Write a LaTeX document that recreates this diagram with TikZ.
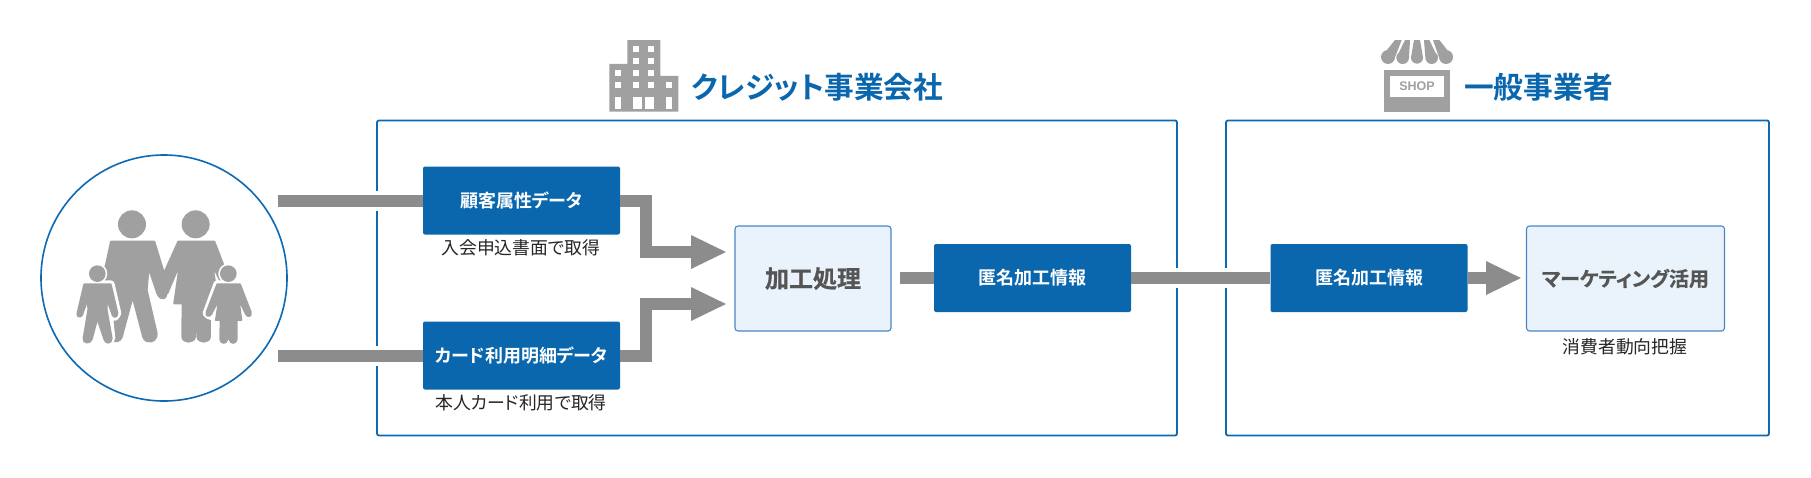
\documentclass[tikz,border=0pt]{standalone}
\usepackage{fontspec}
\usetikzlibrary{arrows.meta}
\setmainfont{Noto Sans CJK JP}
\newfontfamily\jpreg[RawFeature={+palt}]{Noto Sans CJK JP}
\newfontfamily\jpbold[RawFeature={+palt}]{Noto Sans CJK JP Bold}
\newfontfamily\jpheavy[RawFeature={+palt},FakeBold=0.7]{Noto Sans CJK JP Bold}
\newfontfamily\latinb{Liberation Sans Bold}
\definecolor{blueA}{HTML}{0A67AE}
\definecolor{frameA}{HTML}{0C69B4}
\definecolor{lightA}{HTML}{EAF3FB}
\definecolor{edgeA}{HTML}{4A86C5}
\definecolor{iconA}{HTML}{A0A0A1}
\definecolor{barA}{HTML}{8C8C8C}
\definecolor{textA}{HTML}{555555}
\tikzset{
  frameBox/.style={draw=frameA,line width=1.8pt,rounded corners=2pt,fill=white,inner sep=0pt},
  dataBox/.style={fill=blueA,rounded corners=2pt,inner sep=0pt,minimum width=197pt,minimum height=68pt,text=white,font=\jpbold\fontsize{18}{21}\selectfont},
  procBox/.style={draw=edgeA,line width=1.1pt,fill=lightA,rounded corners=3pt,inner sep=0pt,text=textA},
  subLabel/.style={inner sep=0pt,text=black!85,font=\jpreg\fontsize{17.8}{21}\selectfont},
  headLabel/.style={anchor=west,inner sep=0pt,text=blueA,font=\jpbold\fontsize{29.7}{34}\selectfont},
  bar/.style={draw=barA,line width=12pt},
  gap/.style={draw=white,line width=20pt},
  barArrow/.style={bar,-{Triangle[length=36pt,width=31pt]}},
  person/.style={fill=iconA,draw=iconA,line width=2pt,line join=round},
  halo/.style={fill=white,draw=white,line width=8pt,line join=round}
}
\begin{document}
\begin{tikzpicture}[x=1pt,y=-1pt]
\useasboundingbox (0,0) rectangle (1811,477);
\fill[white] (0,0) rectangle (1811,477);

% frames
\node[frameBox,minimum width=800pt,minimum height=315pt] (frameL) at (777,278) {};
\node[frameBox,minimum width=543pt,minimum height=315pt] (frameR) at (1497.5,278) {};

% circle
\node[circle,draw=frameA,line width=1.6pt,fill=white,minimum size=246pt,inner sep=0pt] (family) at (164,278) {};

% family icon
\begin{scope}[shift={(0,130)},x=0.3333pt,y=-0.3333pt]
 \fill[iconA] (396,283) circle[radius=42];
 \fill[iconA] (587,283) circle[radius=42];
 % father
 \path[person] (333,335) -- (463,335) -- (492,430) -- (505,470) -- (497,500) .. controls (490,510) and (478,505) .. (472,490) -- (446,412) -- (440,480) -- (470,610) .. controls (472,635) and (440,645) .. (430,622) -- (398,500) -- (365,622) .. controls (360,635) and (345,637) .. (338,630) -- (335,560) -- (330,470) -- (305,440) -- (318,405) -- cycle;
 % mother
 \path[person] (535,335) -- (643,335) -- (672,410) -- (660,450) -- (637,405) -- (655,520) -- (630,520) -- (630,620) .. controls (628,640) and (595,640) .. (592,620) -- (590,520) -- (585,520) -- (585,620) .. controls (583,640) and (548,640) .. (547,620) -- (548,520) -- (523,520) -- (540,400) -- (502,490) -- (490,470) -- (492,430) -- cycle;
 % boy
 \fill[white] (292,431) circle[radius=30];
 \path[halo] (253,463) -- (332,463) -- (352,550) -- (345,560) -- (322,510) -- (334,625) -- (322,637) -- (292,565) -- (275,628) -- (262,637) -- (251,628) -- (264,510) -- (243,555) -- (233,555) -- cycle;
 \path[person] (253,463) -- (332,463) -- (352,548) .. controls (352,562) and (342,564) .. (338,555) -- (320,505) -- (320,540) -- (335,625) .. controls (335,640) and (318,642) .. (314,630) -- (292,565) -- (275,628) .. controls (270,642) and (248,640) .. (251,625) -- (265,540) -- (264,505) -- (246,555) .. controls (240,564) and (230,560) .. (233,548) -- cycle;
 \fill[iconA] (292,431) circle[radius=25];
 % girl
 \fill[white] (685,431) circle[radius=30];
 \path[halo] (652,463) -- (720,463) -- (753,548) -- (743,558) -- (715,505) -- (724,570) -- (710,570) -- (710,630) -- (662,630) -- (662,570) -- (648,570) -- (658,505) -- (630,558) -- (620,550) -- cycle;
 \path[person] (652,463) -- (720,463) -- (752,546) .. controls (756,560) and (743,562) .. (738,552) -- (715,505) -- (724,570) -- (710,570) -- (710,628) .. controls (708,642) and (690,642) .. (689,628) -- (687,570) -- (683,570) -- (682,628) .. controls (680,642) and (662,642) .. (661,628) -- (662,570) -- (648,570) -- (658,505) -- (634,552) .. controls (628,562) and (616,558) .. (620,546) -- cycle;
 \fill[iconA] (685,431) circle[radius=25];
\end{scope}

% building
\begin{scope}[shift={(590,20)},x=0.3333pt,y=-0.3333pt]
 \fill[iconA] (112,60) -- (211,60) -- (211,168) -- (265,168) -- (265,275) -- (58,275) -- (58,132) -- (112,132) -- cycle;
 \foreach \xa/\ya in {130/78,174/78,130/113,174/113,76/150,130/150,174/150,76/186,130/186,174/186,228/186}
   \fill[white] (\xa,\ya) rectangle ++(18,18);
 \foreach \xa/\xb in {76/94,130/157,165/192,228/246}
   \fill[white] (\xa,232) rectangle (\xb,268);
\end{scope}

% shop
\begin{scope}[shift={(1360,20)},x=0.3333pt,y=-0.3333pt]
 \fill[iconA] (72,150) rectangle (270,275);
 \fill[white] (90,167) rectangle (252,232);
 \fill[iconA] (105,60) -- (125,60) -- (105,112) -- (63,112) -- cycle (84,111) circle[radius=21];
 \fill[iconA] (135,60) -- (150,60) -- (147,112) -- (110,112) -- cycle (128,113) circle[radius=19];
 \fill[iconA] (162,60) -- (180,60) -- (189,112) -- (153,112) -- cycle (171,113) circle[radius=18];
 \fill[iconA] (192,60) -- (208,60) -- (233,112) -- (196,112) -- cycle (215,113) circle[radius=19];
 \fill[iconA] (219,60) -- (238,60) -- (279,112) -- (237,112) -- cycle (258,111) circle[radius=21];
\end{scope}
\node[inner sep=0pt,text=iconA,font=\latinb\fontsize{12.5}{14}\selectfont] (shoptext) at (1417,86) {SHOP};

% headings
\node[headLabel] (headL) at (691,87) {クレジット事業会社};
\node[headLabel] (headR) at (1464,87) {一般事業者};

% boxes
\node[dataBox] (attr) at (521.5,200.5) {顧客属性データ};
\node[dataBox] (card) at (521.5,355.5) {カード利用明細データ};
\node[procBox,minimum width=156pt,minimum height=105pt,font=\jpheavy\fontsize{24}{28}\selectfont] (proc) at (813,278.5) {加工処理};
\node[dataBox] (anonL) at (1032.5,278) {匿名加工情報};
\node[dataBox] (anonR) at (1369,278) {匿名加工情報};
\node[procBox,minimum width=198pt,minimum height=105pt,font=\jpheavy\fontsize{20}{24}\selectfont] (mkt) at (1625.5,278.5) {マーケティング活用};

% sub labels
\node[subLabel] (subA) at (521,248) {入会申込書面で取得};
\node[subLabel] (subB) at (521,403) {本人カード利用で取得};
\node[subLabel] (subC) at (1625,347) {消費者動向把握};

% connectors
\coordinate (startA) at (278,200.5);
\coordinate (startB) at (278,355.5);
\coordinate (inA) at (727,252);
\coordinate (inB) at (727,304);
\coordinate (startC) at (900,278);
\coordinate (inC) at (1522,278);
\draw[gap] (373,200.5) -- (381,200.5);
\draw[gap] (373,355.5) -- (381,355.5);
\draw[gap] (1173,278) -- (1181,278);
\draw[gap] (1222,278) -- (1230,278);
\draw[bar] (startA) -- (attr.west);
\draw[bar] (startB) -- (card.west);
\draw[barArrow] (attr.east) -- (646,200.5) -- (646,252) -- (inA);
\draw[barArrow] (card.east) -- (646,355.5) -- (646,304) -- (inB);
\draw[bar] (startC) -- (anonL.west);
\draw[bar] (anonL.east) -- (anonR.west);
\draw[barArrow] (anonR.east) -- (inC);
\end{tikzpicture}
\end{document}
